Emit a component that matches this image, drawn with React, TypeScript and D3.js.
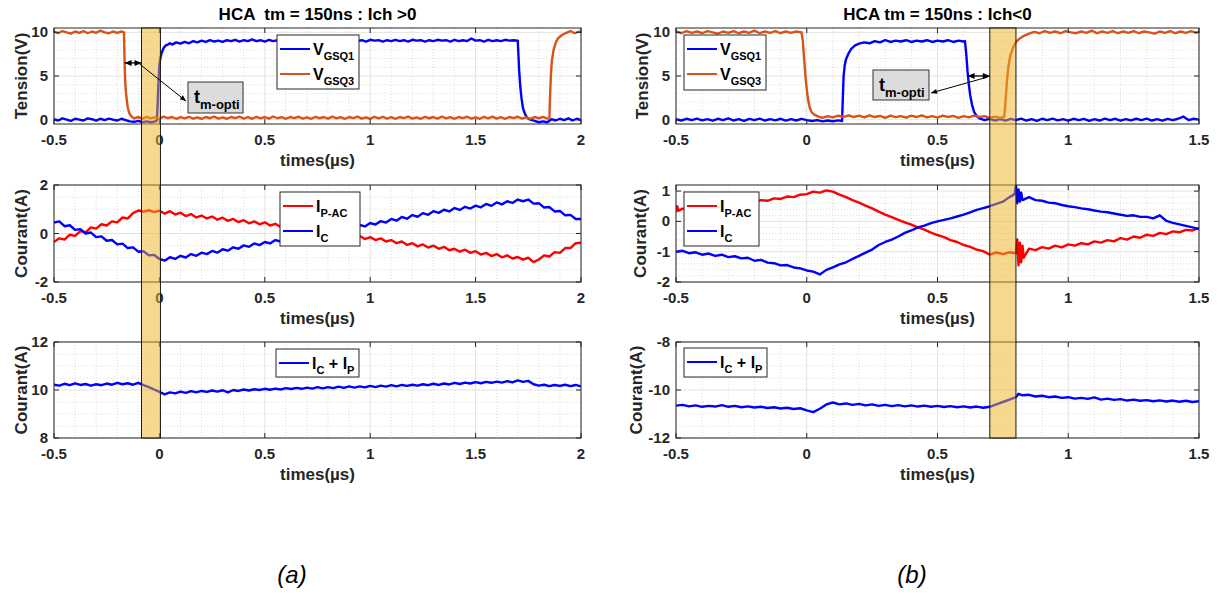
import React from 'react';
import * as d3 from 'd3';

type Pt = [number, number];
type Piece = [string, boolean];

// ---------- colours ----------
const BLUE = '#0000FF';
const ORANGE = '#D95319';
const RED = '#FF0000';

// ---------- text ----------
const TITLE_A = 'HCA  tm = 150ns : Ich >0';
const TITLE_B = 'HCA tm = 150ns : Ich<0';
const XLABEL = 'times(µs)';
const YLABEL_V = 'Tension(V)';
const YLABEL_I = 'Courant(A)';
const LEG_VGSQ1: Piece[] = [['V', false], ['GSQ1', true]];
const LEG_VGSQ3: Piece[] = [['V', false], ['GSQ3', true]];
const LEG_IPAC: Piece[] = [['I', false], ['P-AC', true]];
const LEG_IC: Piece[] = [['I', false], ['C', true]];
const LEG_SUM: Piece[] = [['I', false], ['C', true], [' + I', false], ['P', true]];
const ANNOT: Piece[] = [['t', false], ['m-opti', true]];

// ---------- ticks ----------
const X_TICKS_A = [-0.5, 0, 0.5, 1, 1.5, 2];
const X_TICKS_B = [-0.5, 0, 0.5, 1, 1.5];
const Y_TICKS_V = [0, 5, 10];
const Y_TICKS_IA = [-2, 0, 2];
const Y_TICKS_SA = [8, 10, 12];
const Y_TICKS_IB = [-2, -1, 0, 1];
const Y_TICKS_SB = [-12, -10, -8];

// ---------- shaded dead-time windows (µs) ----------
const BAND_A: [number, number] = [-0.085, 0.005];
const BAND_B: [number, number] = [0.7, 0.8];

// ---------- (a) Ich > 0 ----------
const VGSQ1_A: Pt[] = [[-0.5,0.05],[-0.48,-0.1],[-0.46,0.15],[-0.44,0.0],[-0.42,-0.15],[-0.40,0.1],[-0.38,0.0],[-0.36,-0.1],[-0.34,0.15],[-0.32,0.05],[-0.30,-0.12],[-0.28,0.1],[-0.26,-0.05],[-0.24,0.12],[-0.22,0.0],[-0.20,-0.1],[-0.18,0.1],[-0.16,-0.05],[-0.14,-0.2],[-0.12,-0.25],[-0.10,-0.15],[-0.08,-0.3],[-0.06,-0.2],[-0.04,-0.3],[-0.02,-0.2],[-0.012,-0.1],[-0.008,2.0],[-0.004,4.5],[0.0,6.3],[0.005,7.1],[0.01,7.6],[0.02,8.2],[0.03,8.5],[0.04,8.6],[0.05,8.75],[0.06,8.6],[0.08,8.85],[0.10,8.7],[0.12,8.9],[0.14,8.75],[0.16,9.0],[0.18,8.85],[0.20,9.05],[0.22,8.9],[0.24,9.1],[0.26,8.95],[0.28,9.05],[0.30,8.9],[0.32,9.1],[0.34,9.0],[0.36,9.15],[0.38,8.95],[0.40,9.1],[0.42,9.0],[0.44,9.2],[0.46,9.0],[0.48,9.1],[0.50,8.95],[0.52,9.15],[0.54,9.0],[0.56,9.1],[0.58,8.95],[0.60,9.2],[0.62,9.05],[0.64,9.1],[0.66,8.95],[0.68,9.15],[0.70,9.0],[0.72,9.1],[0.74,9.0],[0.76,9.15],[0.78,9.0],[0.80,9.1],[0.82,8.95],[0.84,9.15],[0.86,9.05],[0.88,9.1],[0.90,8.95],[0.92,9.15],[0.94,9.0],[0.96,9.1],[0.98,8.95],[1.00,9.15],[1.02,9.05],[1.04,9.1],[1.06,8.95],[1.08,9.1],[1.10,9.0],[1.12,9.15],[1.14,9.0],[1.16,9.1],[1.18,8.95],[1.20,9.15],[1.22,9.05],[1.24,9.1],[1.26,8.95],[1.28,9.1],[1.30,9.0],[1.32,9.15],[1.34,9.05],[1.36,9.1],[1.38,8.95],[1.40,9.15],[1.42,9.0],[1.44,9.1],[1.46,9.0],[1.48,9.3],[1.50,9.05],[1.52,9.1],[1.54,8.95],[1.56,9.15],[1.58,9.0],[1.60,9.1],[1.62,9.0],[1.64,9.15],[1.66,9.05],[1.68,9.1],[1.70,9.05],[1.703,7.5],[1.707,5.5],[1.712,3.8],[1.718,2.4],[1.725,1.3],[1.735,0.6],[1.745,0.2],[1.76,0.0],[1.78,-0.15],[1.80,-0.3],[1.82,-0.2],[1.84,-0.3],[1.86,0.05],[1.88,-0.1],[1.90,0.1],[1.92,-0.05],[1.94,0.15],[1.96,-0.1],[1.98,0.1],[2.0,-0.05]];

const VGSQ3_A: Pt[] = [[-0.5,10.1],[-0.48,9.9],[-0.46,10.15],[-0.44,10.0],[-0.42,9.85],[-0.40,10.1],[-0.38,9.95],[-0.36,10.15],[-0.34,9.9],[-0.32,10.1],[-0.30,9.95],[-0.28,10.2],[-0.26,10.0],[-0.24,9.9],[-0.22,10.1],[-0.20,9.95],[-0.18,10.1],[-0.168,10.0],[-0.165,6.5],[-0.162,4.2],[-0.158,3.0],[-0.154,2.1],[-0.15,1.4],[-0.145,0.9],[-0.14,0.6],[-0.13,0.3],[-0.12,0.15],[-0.10,0.3],[-0.08,0.12],[-0.06,0.32],[-0.04,0.15],[-0.02,0.28],[0.0,0.1],[0.02,0.35],[0.04,0.18],[0.06,0.3],[0.08,0.1],[0.10,0.28],[0.12,0.15],[0.14,0.33],[0.16,0.12],[0.18,0.27],[0.20,0.08],[0.22,0.3],[0.24,0.16],[0.26,0.35],[0.28,0.12],[0.30,0.26],[0.32,0.1],[0.34,0.3],[0.36,0.18],[0.38,0.34],[0.40,0.12],[0.42,0.28],[0.44,0.1],[0.46,0.32],[0.48,0.15],[0.50,0.3],[0.52,0.12],[0.54,0.36],[0.56,0.16],[0.58,0.28],[0.60,0.1],[0.62,0.3],[0.64,0.18],[0.66,0.33],[0.68,0.12],[0.70,0.27],[0.72,0.1],[0.74,0.32],[0.76,0.16],[0.78,0.3],[0.80,0.12],[0.82,0.35],[0.84,0.15],[0.86,0.28],[0.88,0.1],[0.90,0.3],[0.92,0.17],[0.94,0.34],[0.96,0.12],[0.98,0.27],[1.00,0.1],[1.02,0.31],[1.04,0.15],[1.06,0.33],[1.08,0.12],[1.10,0.28],[1.12,0.1],[1.14,0.3],[1.16,0.18],[1.18,0.35],[1.20,0.12],[1.22,0.27],[1.24,0.1],[1.26,0.32],[1.28,0.16],[1.30,0.3],[1.32,0.12],[1.34,0.34],[1.36,0.15],[1.38,0.28],[1.40,0.1],[1.42,0.3],[1.44,0.17],[1.46,0.33],[1.48,0.12],[1.50,0.27],[1.52,0.1],[1.54,0.31],[1.56,0.15],[1.58,0.35],[1.60,0.12],[1.62,0.28],[1.64,0.1],[1.66,0.3],[1.68,0.18],[1.70,0.33],[1.72,0.12],[1.74,0.27],[1.76,0.1],[1.78,0.3],[1.80,0.16],[1.82,0.32],[1.84,0.12],[1.85,0.15],[1.853,2.5],[1.857,5.0],[1.862,6.8],[1.87,8.0],[1.88,8.8],[1.89,9.3],[1.91,9.7],[1.93,9.95],[1.95,10.15],[1.97,9.9],[1.99,10.1],[2.0,10.0]];

const IPAC_A: Pt[] = [[-0.5,-0.35],[-0.475,-0.2],[-0.45,-0.25],[-0.425,-0.05],[-0.4,-0.1],[-0.375,0.1],[-0.35,0.05],[-0.325,0.25],[-0.3,0.2],[-0.275,0.38],[-0.25,0.33],[-0.225,0.5],[-0.2,0.46],[-0.175,0.66],[-0.15,0.62],[-0.125,0.84],[-0.1,0.95],[-0.075,0.9],[-0.05,0.96],[-0.025,0.88],[0,0.94],[0.025,0.82],[0.05,0.92],[0.075,0.78],[0.1,0.86],[0.125,0.72],[0.15,0.8],[0.175,0.66],[0.2,0.74],[0.225,0.62],[0.25,0.7],[0.275,0.57],[0.3,0.65],[0.325,0.52],[0.35,0.6],[0.375,0.47],[0.4,0.55],[0.425,0.42],[0.45,0.5],[0.475,0.38],[0.5,0.46],[0.525,0.33],[0.55,0.4],[0.575,0.27],[0.6,0.33],[0.625,0.2],[0.65,0.27],[0.675,0.13],[0.7,0.2],[0.725,0.06],[0.75,0.13],[0.775,-0.01],[0.8,0.05],[0.825,-0.09],[0.85,-0.03],[0.875,-0.15],[0.9,-0.08],[0.925,-0.19],[0.95,-0.1],[0.975,-0.23],[1.0,-0.15],[1.025,-0.27],[1.05,-0.2],[1.075,-0.33],[1.1,-0.27],[1.125,-0.4],[1.15,-0.33],[1.175,-0.47],[1.2,-0.4],[1.225,-0.53],[1.25,-0.45],[1.275,-0.58],[1.3,-0.5],[1.325,-0.63],[1.35,-0.55],[1.375,-0.69],[1.4,-0.63],[1.425,-0.75],[1.45,-0.67],[1.475,-0.8],[1.5,-0.73],[1.525,-0.87],[1.55,-0.8],[1.575,-0.93],[1.6,-0.85],[1.625,-0.98],[1.65,-0.9],[1.675,-1.03],[1.7,-0.97],[1.725,-1.08],[1.75,-1.0],[1.775,-1.18],[1.8,-1.07],[1.825,-0.9],[1.85,-0.95],[1.875,-0.77],[1.9,-0.8],[1.925,-0.6],[1.95,-0.6],[1.975,-0.4],[2.0,-0.38]];

const IC_A: Pt[] = [[-0.5,0.45],[-0.475,0.5],[-0.45,0.3],[-0.425,0.34],[-0.4,0.15],[-0.375,0.18],[-0.35,0.0],[-0.325,0.04],[-0.3,-0.15],[-0.275,-0.12],[-0.25,-0.3],[-0.225,-0.27],[-0.2,-0.45],[-0.175,-0.42],[-0.15,-0.6],[-0.125,-0.57],[-0.1,-0.75],[-0.075,-0.73],[-0.05,-0.9],[-0.025,-0.88],[0,-1.05],[0.025,-1.12],[0.05,-0.98],[0.075,-1.05],[0.1,-0.92],[0.125,-0.99],[0.15,-0.85],[0.175,-0.92],[0.2,-0.79],[0.225,-0.85],[0.25,-0.72],[0.275,-0.79],[0.3,-0.65],[0.325,-0.71],[0.35,-0.57],[0.375,-0.63],[0.4,-0.49],[0.425,-0.55],[0.45,-0.41],[0.475,-0.48],[0.5,-0.35],[0.525,-0.41],[0.55,-0.27],[0.575,-0.33],[0.6,-0.19],[0.625,-0.25],[0.65,-0.12],[0.675,-0.19],[0.7,-0.05],[0.725,-0.11],[0.75,0.03],[0.775,-0.03],[0.8,0.11],[0.825,0.05],[0.85,0.19],[0.875,0.13],[0.9,0.27],[0.925,0.21],[0.95,0.35],[0.975,0.29],[1.0,0.43],[1.025,0.37],[1.05,0.51],[1.075,0.45],[1.1,0.6],[1.125,0.53],[1.15,0.68],[1.175,0.61],[1.2,0.76],[1.225,0.69],[1.25,0.84],[1.275,0.77],[1.3,0.92],[1.325,0.85],[1.35,0.98],[1.375,0.91],[1.4,1.05],[1.425,0.97],[1.45,1.1],[1.475,1.03],[1.5,1.15],[1.525,1.08],[1.55,1.22],[1.575,1.14],[1.6,1.28],[1.625,1.2],[1.65,1.33],[1.675,1.26],[1.7,1.4],[1.725,1.33],[1.75,1.4],[1.775,1.23],[1.8,1.25],[1.825,1.07],[1.85,1.09],[1.875,0.91],[1.9,0.93],[1.925,0.75],[1.95,0.77],[1.975,0.6],[2.0,0.6]];

const ISUM_A: Pt[] = [[-0.5,10.22],[-0.475,10.18],[-0.45,10.26],[-0.425,10.2],[-0.4,10.28],[-0.375,10.21],[-0.35,10.25],[-0.325,10.18],[-0.3,10.24],[-0.275,10.2],[-0.25,10.27],[-0.225,10.22],[-0.2,10.3],[-0.175,10.24],[-0.15,10.28],[-0.125,10.22],[-0.1,10.3],[-0.075,10.2],[-0.05,10.12],[-0.025,10.02],[0,9.92],[0.025,9.82],[0.05,9.9],[0.075,9.86],[0.1,9.93],[0.125,9.88],[0.15,9.95],[0.175,9.9],[0.2,9.96],[0.225,9.92],[0.25,9.98],[0.275,9.93],[0.3,9.99],[0.325,9.9],[0.35,10.0],[0.375,9.96],[0.4,10.02],[0.425,9.98],[0.45,10.03],[0.475,10.0],[0.5,10.05],[0.525,10.01],[0.55,10.06],[0.575,10.02],[0.6,10.08],[0.625,10.04],[0.65,10.09],[0.675,10.05],[0.7,10.1],[0.725,10.06],[0.75,10.12],[0.775,10.07],[0.8,10.12],[0.825,10.08],[0.85,10.14],[0.875,10.09],[0.9,10.15],[0.925,10.1],[0.95,10.15],[0.975,10.11],[1.0,10.17],[1.025,10.12],[1.05,10.18],[1.075,10.14],[1.1,10.2],[1.125,10.15],[1.15,10.21],[1.175,10.17],[1.2,10.22],[1.225,10.18],[1.25,10.24],[1.275,10.2],[1.3,10.26],[1.325,10.21],[1.35,10.27],[1.375,10.23],[1.4,10.3],[1.425,10.25],[1.45,10.31],[1.475,10.27],[1.5,10.33],[1.525,10.28],[1.55,10.34],[1.575,10.3],[1.6,10.35],[1.625,10.31],[1.65,10.37],[1.675,10.32],[1.7,10.4],[1.725,10.34],[1.75,10.38],[1.775,10.24],[1.8,10.18],[1.825,10.22],[1.85,10.16],[1.875,10.21],[1.9,10.17],[1.925,10.22],[1.95,10.16],[1.975,10.21],[2.0,10.15]];

// ---------- (b) Ich < 0 ----------
const VGSQ1_B: Pt[] = [[-0.5,0.05],[-0.48,-0.1],[-0.46,0.1],[-0.44,-0.05],[-0.42,0.12],[-0.40,-0.08],[-0.38,0.05],[-0.36,-0.12],[-0.34,0.1],[-0.32,-0.05],[-0.30,0.15],[-0.28,-0.1],[-0.26,0.05],[-0.24,-0.15],[-0.22,0.08],[-0.20,-0.05],[-0.18,0.12],[-0.16,-0.1],[-0.14,0.05],[-0.12,-0.08],[-0.10,0.1],[-0.08,-0.12],[-0.06,0.05],[-0.04,-0.1],[-0.02,0.08],[0.0,-0.05],[0.02,-0.15],[0.04,-0.05],[0.06,-0.2],[0.08,-0.1],[0.10,-0.18],[0.12,-0.08],[0.135,-0.15],[0.138,2.5],[0.141,5.0],[0.145,6.2],[0.15,6.9],[0.16,7.6],[0.17,8.1],[0.185,8.5],[0.20,8.7],[0.22,8.85],[0.24,8.75],[0.26,9.0],[0.28,8.85],[0.30,9.1],[0.32,8.9],[0.34,9.05],[0.36,8.95],[0.38,9.1],[0.40,8.9],[0.42,9.05],[0.44,8.95],[0.46,9.1],[0.48,8.9],[0.50,9.05],[0.52,8.95],[0.54,9.1],[0.56,8.9],[0.58,9.05],[0.60,8.95],[0.605,9.0],[0.61,7.5],[0.615,5.5],[0.62,4.0],[0.625,2.8],[0.632,1.7],[0.64,0.9],[0.65,0.4],[0.66,0.15],[0.68,-0.05],[0.70,0.1],[0.72,-0.1],[0.74,0.05],[0.76,-0.12],[0.78,0.08],[0.80,-0.05],[0.82,0.12],[0.84,-0.1],[0.86,0.05],[0.88,-0.15],[0.90,0.1],[0.92,-0.05],[0.94,0.12],[0.96,-0.08],[0.98,0.05],[1.00,-0.12],[1.02,0.1],[1.04,-0.05],[1.06,0.08],[1.08,-0.15],[1.10,0.05],[1.12,-0.1],[1.14,0.12],[1.16,-0.05],[1.18,0.1],[1.20,-0.12],[1.22,0.05],[1.24,-0.08],[1.26,0.1],[1.28,-0.05],[1.30,0.12],[1.32,-0.1],[1.34,0.05],[1.36,-0.12],[1.38,0.08],[1.40,-0.05],[1.42,0.1],[1.44,0.35],[1.46,-0.05],[1.48,0.1],[1.50,0.0]];

const VGSQ3_B: Pt[] = [[-0.5,10.1],[-0.48,9.9],[-0.46,10.15],[-0.44,9.95],[-0.42,10.1],[-0.40,9.9],[-0.38,10.15],[-0.36,10.0],[-0.34,9.85],[-0.32,10.1],[-0.30,9.95],[-0.28,10.15],[-0.26,9.9],[-0.24,10.1],[-0.22,9.95],[-0.20,10.2],[-0.18,9.9],[-0.16,10.1],[-0.14,9.95],[-0.12,10.15],[-0.10,9.9],[-0.08,10.1],[-0.06,9.95],[-0.04,10.1],[-0.02,10.0],[-0.015,9.0],[-0.01,7.0],[-0.005,5.0],[0.0,3.5],[0.005,2.3],[0.012,1.3],[0.02,0.8],[0.03,0.55],[0.045,0.35],[0.06,0.2],[0.08,0.4],[0.10,0.25],[0.12,0.45],[0.14,0.3],[0.16,0.5],[0.18,0.3],[0.20,0.45],[0.22,0.25],[0.24,0.5],[0.26,0.3],[0.28,0.42],[0.30,0.2],[0.32,0.45],[0.34,0.28],[0.36,0.4],[0.38,0.22],[0.40,0.45],[0.42,0.3],[0.44,0.5],[0.46,0.25],[0.48,0.4],[0.50,0.22],[0.52,0.45],[0.54,0.3],[0.56,0.42],[0.58,0.2],[0.60,0.4],[0.62,0.25],[0.64,0.45],[0.66,0.3],[0.68,0.4],[0.70,0.2],[0.72,0.35],[0.74,0.2],[0.755,0.3],[0.76,2.0],[0.765,4.2],[0.77,5.8],[0.775,6.8],[0.78,7.5],[0.79,8.3],[0.80,8.9],[0.815,9.3],[0.83,9.6],[0.85,9.85],[0.87,10.05],[0.89,9.9],[0.91,10.15],[0.93,9.95],[0.95,10.1],[0.97,9.9],[0.99,10.15],[1.01,10.0],[1.03,9.9],[1.05,10.1],[1.07,9.95],[1.09,10.2],[1.11,9.9],[1.13,10.1],[1.15,9.95],[1.17,10.15],[1.19,9.9],[1.21,10.1],[1.23,9.95],[1.25,10.15],[1.27,9.9],[1.29,10.1],[1.31,10.0],[1.33,9.85],[1.35,10.1],[1.37,9.95],[1.39,10.15],[1.41,9.9],[1.43,10.1],[1.45,9.95],[1.47,10.15],[1.49,9.95],[1.50,10.1]];

const IPAC_B: Pt[] = [[-0.5,0.3],[-0.495,0.5],[-0.49,0.35],[-0.475,0.42],[-0.45,0.38],[-0.425,0.45],[-0.4,0.42],[-0.375,0.5],[-0.35,0.47],[-0.325,0.55],[-0.3,0.52],[-0.275,0.6],[-0.25,0.57],[-0.225,0.64],[-0.2,0.62],[-0.175,0.7],[-0.15,0.68],[-0.125,0.76],[-0.1,0.74],[-0.075,0.82],[-0.05,0.8],[-0.025,0.88],[0,0.9],[0.025,0.98],[0.05,0.95],[0.075,1.02],[0.1,0.98],[0.125,0.88],[0.15,0.8],[0.175,0.7],[0.2,0.62],[0.225,0.52],[0.25,0.43],[0.275,0.32],[0.3,0.22],[0.325,0.14],[0.35,0.05],[0.375,-0.03],[0.4,-0.11],[0.425,-0.2],[0.45,-0.27],[0.475,-0.37],[0.5,-0.45],[0.525,-0.52],[0.55,-0.62],[0.575,-0.68],[0.6,-0.78],[0.625,-0.84],[0.65,-0.93],[0.675,-0.98],[0.7,-1.1],[0.725,-1.02],[0.75,-1.08],[0.775,-1.02],[0.8,-1.05],[0.805,-0.6],[0.81,-1.45],[0.815,-0.7],[0.82,-1.35],[0.825,-0.8],[0.83,-1.2],[0.85,-0.9],[0.875,-0.95],[0.9,-0.85],[0.925,-0.9],[0.95,-0.8],[0.975,-0.86],[1.0,-0.76],[1.025,-0.8],[1.05,-0.72],[1.075,-0.76],[1.1,-0.66],[1.125,-0.7],[1.15,-0.62],[1.175,-0.66],[1.2,-0.55],[1.225,-0.6],[1.25,-0.5],[1.275,-0.54],[1.3,-0.44],[1.325,-0.48],[1.35,-0.38],[1.375,-0.42],[1.4,-0.33],[1.425,-0.36],[1.45,-0.28],[1.475,-0.3],[1.5,-0.22]];

const IC_B: Pt[] = [[-0.5,-1.0],[-0.475,-0.97],[-0.45,-1.05],[-0.425,-1.02],[-0.4,-1.1],[-0.375,-1.06],[-0.35,-1.14],[-0.325,-1.1],[-0.3,-1.18],[-0.275,-1.15],[-0.25,-1.22],[-0.225,-1.2],[-0.2,-1.3],[-0.175,-1.27],[-0.15,-1.36],[-0.125,-1.38],[-0.1,-1.45],[-0.075,-1.44],[-0.05,-1.52],[-0.025,-1.55],[0,-1.62],[0.025,-1.66],[0.05,-1.75],[0.075,-1.6],[0.1,-1.52],[0.125,-1.42],[0.15,-1.35],[0.175,-1.24],[0.2,-1.14],[0.225,-1.03],[0.25,-0.93],[0.275,-0.78],[0.3,-0.68],[0.325,-0.6],[0.35,-0.5],[0.375,-0.38],[0.4,-0.3],[0.425,-0.2],[0.45,-0.14],[0.475,-0.06],[0.5,0.0],[0.525,0.05],[0.55,0.1],[0.575,0.16],[0.6,0.22],[0.625,0.3],[0.65,0.38],[0.675,0.44],[0.7,0.5],[0.725,0.58],[0.75,0.65],[0.775,0.8],[0.795,0.9],[0.8,1.22],[0.805,0.6],[0.81,1.05],[0.815,0.65],[0.82,0.95],[0.825,0.7],[0.85,0.8],[0.875,0.7],[0.9,0.68],[0.925,0.62],[0.95,0.6],[0.975,0.54],[1.0,0.5],[1.025,0.47],[1.05,0.43],[1.075,0.4],[1.1,0.36],[1.125,0.32],[1.15,0.3],[1.175,0.26],[1.2,0.22],[1.225,0.18],[1.25,0.2],[1.275,0.15],[1.3,0.15],[1.325,0.1],[1.35,0.2],[1.375,0.02],[1.4,-0.05],[1.425,-0.1],[1.45,-0.15],[1.475,-0.2],[1.5,-0.25]];

const ISUM_B: Pt[] = [[-0.5,-10.65],[-0.475,-10.62],[-0.45,-10.68],[-0.425,-10.64],[-0.4,-10.7],[-0.375,-10.66],[-0.35,-10.69],[-0.325,-10.63],[-0.3,-10.7],[-0.275,-10.66],[-0.25,-10.72],[-0.225,-10.68],[-0.2,-10.73],[-0.175,-10.7],[-0.15,-10.75],[-0.125,-10.72],[-0.1,-10.77],[-0.075,-10.74],[-0.05,-10.79],[-0.025,-10.76],[0,-10.85],[0.025,-10.92],[0.05,-10.78],[0.075,-10.6],[0.1,-10.52],[0.125,-10.6],[0.15,-10.56],[0.175,-10.62],[0.2,-10.58],[0.225,-10.64],[0.25,-10.6],[0.275,-10.66],[0.3,-10.62],[0.325,-10.67],[0.35,-10.63],[0.375,-10.68],[0.4,-10.64],[0.425,-10.69],[0.45,-10.65],[0.475,-10.7],[0.5,-10.66],[0.525,-10.71],[0.55,-10.67],[0.575,-10.72],[0.6,-10.68],[0.625,-10.73],[0.65,-10.69],[0.675,-10.74],[0.7,-10.7],[0.725,-10.6],[0.75,-10.5],[0.775,-10.4],[0.8,-10.3],[0.81,-10.16],[0.825,-10.22],[0.85,-10.2],[0.875,-10.27],[0.9,-10.24],[0.925,-10.3],[0.95,-10.27],[0.975,-10.33],[1.0,-10.3],[1.025,-10.36],[1.05,-10.33],[1.075,-10.37],[1.1,-10.31],[1.125,-10.4],[1.15,-10.36],[1.175,-10.41],[1.2,-10.38],[1.225,-10.44],[1.25,-10.4],[1.275,-10.45],[1.3,-10.42],[1.325,-10.47],[1.35,-10.43],[1.375,-10.48],[1.4,-10.44],[1.425,-10.49],[1.45,-10.45],[1.475,-10.5],[1.5,-10.47]];

// ---------- layout ----------
const FONT = 'Arial, "Liberation Sans", Helvetica, sans-serif';
const AXC = '#262626';
const ROWS: [number, number][] = [[28, 124], [185, 282], [342, 438]];
const COL_A: [number, number] = [54, 581];
const COL_B: [number, number] = [676, 1199];

interface SeriesDef { data: Pt[]; color: string; }
interface LegendDef { x: number; y: number; w: number; h: number; items: { color: string; label: Piece[] }[]; }
interface PanelDef {
  id: string; px: [number, number]; py: [number, number];
  xDomain: [number, number]; yDomain: [number, number];
  xTicks: number[]; yTicks: number[]; yMinorStep: number;
  series: SeriesDef[]; yLabel: string; yLabelOff: number; legend: LegendDef;
}

function PieceText({ x, y, pieces, size, subSize, subDy }: { x: number; y: number; pieces: Piece[]; size: number; subSize: number; subDy: number }) {
  let cur = 0;
  return (
    <text x={x} y={y} fontFamily={FONT} fontWeight="bold" fill="#000" fontSize={size}>
      {pieces.map(([t, sub], i) => {
        const dy = sub ? subDy - cur : -cur;
        cur = sub ? subDy : 0;
        return <tspan key={i} dy={dy} fontSize={sub ? subSize : size} style={{ whiteSpace: 'pre' }}>{t}</tspan>;
      })}
    </text>
  );
}

function Panel({ p }: { p: PanelDef }) {
  const x = d3.scaleLinear().domain(p.xDomain).range(p.px);
  const y = d3.scaleLinear().domain(p.yDomain).range([p.py[1], p.py[0]]);
  const line = d3.line<Pt>().x(d => x(d[0])).y(d => y(d[1]));
  const xMinor = d3.range(Math.round(p.xDomain[0] * 10), Math.round(p.xDomain[1] * 10) + 1).map(v => v / 10).filter(v => !p.xTicks.some(t => Math.abs(t - v) < 1e-6));
  const yStart = Math.ceil(p.yDomain[0] / p.yMinorStep - 1e-6);
  const yEnd = Math.floor(p.yDomain[1] / p.yMinorStep + 1e-6);
  const yMinor = d3.range(yStart, yEnd + 1).map(v => v * p.yMinorStep).filter(v => !p.yTicks.some(t => Math.abs(t - v) < 1e-6));
  const [x0, x1] = p.px;
  const [y0, y1] = p.py;
  const L = p.legend;
  return (
    <g>
      <defs>
        <clipPath id={'clip-' + p.id}><rect x={x0} y={y0} width={x1 - x0} height={y1 - y0} /></clipPath>
      </defs>
      <rect x={x0} y={y0} width={x1 - x0} height={y1 - y0} fill="#fff" />
      {xMinor.map(v => <line key={'xm' + v} x1={x(v)} x2={x(v)} y1={y0} y2={y1} stroke="#c8c8c8" strokeWidth={0.6} strokeDasharray="1,2" />)}
      {yMinor.map(v => <line key={'ym' + v} x1={x0} x2={x1} y1={y(v)} y2={y(v)} stroke="#c8c8c8" strokeWidth={0.6} strokeDasharray="1,2" />)}
      {p.xTicks.map(v => <line key={'xg' + v} x1={x(v)} x2={x(v)} y1={y0} y2={y1} stroke="#dcdcdc" strokeWidth={0.8} />)}
      {p.yTicks.map(v => <line key={'yg' + v} x1={x0} x2={x1} y1={y(v)} y2={y(v)} stroke="#dcdcdc" strokeWidth={0.8} />)}
      <g clipPath={`url(#clip-${p.id})`}>
        {p.series.map((s, i) => <path key={i} d={line(s.data) || ''} fill="none" stroke={s.color} strokeWidth={2.4} strokeLinejoin="round" />)}
      </g>
      <rect x={x0} y={y0} width={x1 - x0} height={y1 - y0} fill="none" stroke={AXC} strokeWidth={1} />
      {p.xTicks.map(v => (
        <g key={'xt' + v}>
          <line x1={x(v)} x2={x(v)} y1={y1} y2={y1 - 5} stroke={AXC} />
          <line x1={x(v)} x2={x(v)} y1={y0} y2={y0 + 5} stroke={AXC} />
          <text x={x(v)} y={y1 + 21} textAnchor="middle" fontFamily={FONT} fontWeight="bold" fontSize={15} fill="#262626">{String(v)}</text>
        </g>
      ))}
      {p.yTicks.map(v => (
        <g key={'yt' + v}>
          <line x1={x0} x2={x0 + 5} y1={y(v)} y2={y(v)} stroke={AXC} />
          <line x1={x1} x2={x1 - 5} y1={y(v)} y2={y(v)} stroke={AXC} />
          <text x={x0 - 6} y={y(v) + 5} textAnchor="end" fontFamily={FONT} fontWeight="bold" fontSize={15} fill="#262626">{String(v)}</text>
        </g>
      ))}
      <text x={(x0 + x1) / 2} y={y1 + 42} textAnchor="middle" fontFamily={FONT} fontWeight="bold" fontSize={17} fill="#262626">{XLABEL}</text>
      <text transform={`translate(${x0 - p.yLabelOff},${(y0 + y1) / 2}) rotate(-90)`} textAnchor="middle" fontFamily={FONT} fontWeight="bold" fontSize={17} fill="#262626">{p.yLabel}</text>
      <rect x={L.x} y={L.y} width={L.w} height={L.h} fill="#fff" stroke={AXC} strokeWidth={1} />
      {L.items.map((it, i) => {
        const ly = L.y + 14 + i * 25;
        return (
          <g key={i}>
            <line x1={L.x + 3} x2={L.x + 33} y1={ly} y2={ly} stroke={it.color} strokeWidth={2} />
            <PieceText x={L.x + 36} y={ly + 5.5} pieces={it.label} size={16} subSize={11} subDy={5} />
          </g>
        );
      })}
    </g>
  );
}

function arrowHead(xa: number, ya: number, xb: number, yb: number, len = 7, half = 3) {
  const a = Math.atan2(yb - ya, xb - xa);
  const bx = xb - len * Math.cos(a), by = yb - len * Math.sin(a);
  const px = -Math.sin(a) * half, py = Math.cos(a) * half;
  return `${xb},${yb} ${bx + px},${by + py} ${bx - px},${by - py}`;
}

function Annotation({ ax0, ax1, ay, from, to, box }: { ax0: number; ax1: number; ay: number; from: [number, number]; to: [number, number]; box: [number, number, number, number] }) {
  return (
    <g>
      <line x1={ax0} x2={ax1} y1={ay} y2={ay} stroke="#000" strokeWidth={1.3} />
      <polygon points={arrowHead(ax1, ay, ax0, ay)} fill="#000" />
      <polygon points={arrowHead(ax0, ay, ax1, ay)} fill="#000" />
      <line x1={from[0]} y1={from[1]} x2={to[0]} y2={to[1]} stroke="#000" strokeWidth={1} />
      <polygon points={arrowHead(from[0], from[1], to[0], to[1], 6, 2.5)} fill="#000" />
      <rect x={box[0]} y={box[1]} width={box[2]} height={box[3]} fill="#dcdcdc" stroke="#333" strokeWidth={1} />
      <PieceText x={box[0] + 6} y={box[1] + 21} pieces={ANNOT} size={18} subSize={13} subDy={6} />
    </g>
  );
}

export default function App() {
  const panels: PanelDef[] = [
    { id: 'a1', px: COL_A, py: ROWS[0], xDomain: [-0.5, 2], yDomain: [-0.5, 10.5], xTicks: X_TICKS_A, yTicks: Y_TICKS_V, yMinorStep: 1,
      series: [{ data: VGSQ1_A, color: BLUE }, { data: VGSQ3_A, color: ORANGE }], yLabel: YLABEL_V, yLabelOff: 27,
      legend: { x: 277, y: 35, w: 82, h: 54, items: [{ color: BLUE, label: LEG_VGSQ1 }, { color: ORANGE, label: LEG_VGSQ3 }] } },
    { id: 'a2', px: COL_A, py: ROWS[1], xDomain: [-0.5, 2], yDomain: [-2, 2], xTicks: X_TICKS_A, yTicks: Y_TICKS_IA, yMinorStep: 0.5,
      series: [{ data: IPAC_A, color: RED }, { data: IC_A, color: BLUE }], yLabel: YLABEL_I, yLabelOff: 27,
      legend: { x: 280, y: 192, w: 80, h: 54, items: [{ color: RED, label: LEG_IPAC }, { color: BLUE, label: LEG_IC }] } },
    { id: 'a3', px: COL_A, py: ROWS[2], xDomain: [-0.5, 2], yDomain: [8, 12], xTicks: X_TICKS_A, yTicks: Y_TICKS_SA, yMinorStep: 0.5,
      series: [{ data: ISUM_A, color: BLUE }], yLabel: YLABEL_I, yLabelOff: 27,
      legend: { x: 276, y: 349, w: 83, h: 28, items: [{ color: BLUE, label: LEG_SUM }] } },
    { id: 'b1', px: COL_B, py: ROWS[0], xDomain: [-0.5, 1.5], yDomain: [-0.5, 10.5], xTicks: X_TICKS_B, yTicks: Y_TICKS_V, yMinorStep: 1,
      series: [{ data: VGSQ1_B, color: BLUE }, { data: VGSQ3_B, color: ORANGE }], yLabel: YLABEL_V, yLabelOff: 28,
      legend: { x: 684, y: 35, w: 82, h: 55, items: [{ color: BLUE, label: LEG_VGSQ1 }, { color: ORANGE, label: LEG_VGSQ3 }] } },
    { id: 'b2', px: COL_B, py: ROWS[1], xDomain: [-0.5, 1.5], yDomain: [-2, 1.2], xTicks: X_TICKS_B, yTicks: Y_TICKS_IB, yMinorStep: 0.2,
      series: [{ data: IPAC_B, color: RED }, { data: IC_B, color: BLUE }], yLabel: YLABEL_I, yLabelOff: 30,
      legend: { x: 684, y: 192, w: 75, h: 54, items: [{ color: RED, label: LEG_IPAC }, { color: BLUE, label: LEG_IC }] } },
    { id: 'b3', px: COL_B, py: ROWS[2], xDomain: [-0.5, 1.5], yDomain: [-12, -8], xTicks: X_TICKS_B, yTicks: Y_TICKS_SB, yMinorStep: 0.5,
      series: [{ data: ISUM_B, color: BLUE }], yLabel: YLABEL_I, yLabelOff: 34,
      legend: { x: 684, y: 348, w: 83, h: 29, items: [{ color: BLUE, label: LEG_SUM }] } },
  ];
  const xa = d3.scaleLinear().domain([-0.5, 2]).range(COL_A);
  const xb = d3.scaleLinear().domain([-0.5, 1.5]).range(COL_B);
  const yv = d3.scaleLinear().domain([-0.5, 10.5]).range([ROWS[0][1], ROWS[0][0]]);
  const bandTop = ROWS[0][0], bandBot = ROWS[2][1];
  const bands = [[xa(BAND_A[0]), xa(BAND_A[1])], [xb(BAND_B[0]), xb(BAND_B[1])]];
  return (
    <svg width={1220} height={596} style={{ display: 'block', position: 'absolute', left: 0, top: 0 }} xmlns="http://www.w3.org/2000/svg">
      <rect x={0} y={0} width={1220} height={596} fill="#fff" />
      <text x={(COL_A[0] + COL_A[1]) / 2} y={20} textAnchor="middle" fontFamily={FONT} fontWeight="bold" fontSize={17} fill="#000" style={{ whiteSpace: 'pre' }}>{TITLE_A}</text>
      <text x={(COL_B[0] + COL_B[1]) / 2} y={20} textAnchor="middle" fontFamily={FONT} fontWeight="bold" fontSize={17} fill="#000">{TITLE_B}</text>
      {panels.map(p => <Panel key={p.id} p={p} />)}
      {bands.map(([b0, b1], i) => (
        <g key={i}>
          <rect x={b0} y={bandTop} width={b1 - b0} height={bandBot - bandTop} fill="#EDB120" fillOpacity={0.5} />
          <rect x={b0} y={bandTop} width={b1 - b0} height={bandBot - bandTop} fill="none" stroke="#1a1a1a" strokeWidth={1} />
        </g>
      ))}
      <Annotation ax0={xa(-0.165)} ax1={xa(BAND_A[0])} ay={yv(6.5)} from={[xa(BAND_A[0]) - 2, yv(6.5) + 1]} to={[186, 101]} box={[188, 82, 55, 31]} />
      <Annotation ax0={xb(0.615)} ax1={xb(BAND_B[0])} ay={yv(5)} from={[xb(BAND_B[0]) - 2, yv(5) + 1]} to={[931, 93]} box={[873, 70, 56, 30]} />
      <text x={292} y={583} textAnchor="middle" fontFamily={FONT} fontStyle="italic" fontSize={24} fill="#000">(a)</text>
      <text x={912} y={583} textAnchor="middle" fontFamily={FONT} fontStyle="italic" fontSize={24} fill="#000">(b)</text>
    </svg>
  );
}
